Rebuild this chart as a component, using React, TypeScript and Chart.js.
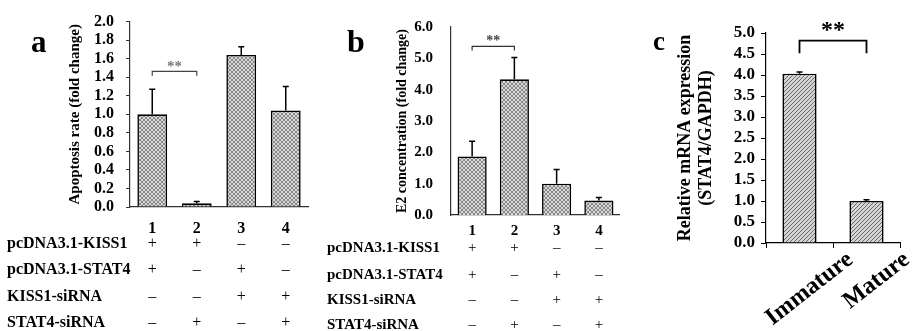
import React, { useEffect, useRef } from 'react';
import { Chart, registerables } from 'chart.js';

Chart.register(...registerables);

const FONT = "'Liberation Serif', 'Times New Roman', serif";

// ---- data ----
const groupLabels = ['1', '2', '3', '4'];
const apoptosisRate = [1.0, 0.04, 1.64, 1.04];
const apoptosisErr = [0.27, 0.02, 0.09, 0.26];
const e2Concentration = [1.87, 4.33, 1.0, 0.46];
const e2Err = [0.48, 0.7, 0.45, 0.1];
const maturityLabels = ['Immature', 'Mature'];
const stat4Expression = [4.03, 1.0];
const stat4Err = [0.04, 0.03];

const treatmentLabels = ['pcDNA3.1-KISS1', 'pcDNA3.1-STAT4', 'KISS1-siRNA', 'STAT4-siRNA'];
const kiss1Overexp = ['+', '+', '–', '–'];
const stat4Overexp = ['+', '–', '+', '–'];
const kiss1Sirna = ['–', '–', '+', '+'];
const stat4Sirna = ['–', '+', '–', '+'];
const treatmentSigns = [kiss1Overexp, stat4Overexp, kiss1Sirna, stat4Sirna];

type Spec = {
  key: string;
  left: number;
  width: number;
  labels: string[];
  values: number[];
  errors: number[];
  yMax: number;
  yStep: number;
  title: string | string[];
  titleSize: number;
  titleCenter: number;
  tickSize: number;
  tickPad: number;
  yTickLen: number;
  axisW: number;
  padTop: number;
  xAxisH: number;
  padRight: number;
  barPct: number;
  rotated: boolean;
  xTickPad: number;
  letter: string;
  letterX: number;
  letterY: number;
  letterSize: number;
  bracket: { top: number; bottom: number; starSize: number; starColor: string; lineColor: string; starRise: number };
  rows: number[] | null;
  rowSize: number;
  pattern: 'cross' | 'diag';
  axisColor: string;
};

const panels: Spec[] = [
  {
    key: 'a', left: 0, width: 320,
    labels: groupLabels, values: apoptosisRate, errors: apoptosisErr,
    yMax: 2, yStep: 0.2,
    title: 'Apoptosis rate (fold change)', titleSize: 15, titleCenter: 75,
    tickSize: 16, tickPad: 12, yTickLen: 4,
    axisW: 130, padTop: 17, xAxisH: 124, padRight: 12,
    barPct: 0.67, rotated: false, xTickPad: 12,
    letter: 'a', letterX: 31, letterY: 52, letterSize: 31,
    bracket: { top: 1.463, bottom: 1.416, starSize: 15, starColor: '#777', lineColor: '#444', starRise: 6 },
    rows: [244, 270, 297, 323], rowSize: 16,
    pattern: 'cross', axisColor: '#333',
  },
  {
    key: 'b', left: 320, width: 300,
    labels: groupLabels, values: e2Concentration, errors: e2Err,
    yMax: 6, yStep: 1,
    title: 'E2 concentration (fold change)', titleSize: 14, titleCenter: 82,
    tickSize: 15, tickPad: 18, yTickLen: 0,
    axisW: 131, padTop: 22, xAxisH: 116, padRight: 0,
    barPct: 0.69, rotated: false, xTickPad: 7,
    letter: 'b', letterX: 27, letterY: 52, letterSize: 32,
    bracket: { top: 5.38, bottom: 5.25, starSize: 14, starColor: '#444', lineColor: '#333', starRise: 7 },
    rows: [248, 275, 300, 325], rowSize: 15,
    pattern: 'cross', axisColor: '#333',
  },
  {
    key: 'c', left: 620, width: 296,
    labels: maturityLabels, values: stat4Expression, errors: stat4Err,
    yMax: 5, yStep: 0.5,
    title: ['Relative mRNA expression', '(STAT4/GAPDH)'], titleSize: 18, titleCenter: 65,
    tickSize: 17, tickPad: 6, yTickLen: 5,
    axisW: 146, padTop: 33, xAxisH: 88, padRight: 16,
    barPct: 0.51, rotated: true, xTickPad: 0,
    letter: 'c', letterX: 33, letterY: 50, letterSize: 27,
    bracket: { top: 4.82, bottom: 4.52, starSize: 24, starColor: '#000', lineColor: '#000', starRise: 13 },
    rows: null, rowSize: 15,
    pattern: 'diag', axisColor: '#000',
  },
];

function makePattern(ctx: CanvasRenderingContext2D, kind: 'cross' | 'diag') {
  const c = document.createElement('canvas');
  c.width = 4;
  c.height = 4;
  const g = c.getContext('2d')!;
  g.fillStyle = kind === 'cross' ? '#d8d8d8' : '#d4d4d4';
  g.fillRect(0, 0, 4, 4);
  g.fillStyle = kind === 'cross' ? '#888888' : '#6a6a6a';
  for (let i = 0; i < 4; i++) {
    g.fillRect(3 - i, i, 1, 1);
    if (kind === 'cross') g.fillRect(i, i, 1, 1);
  }
  return ctx.createPattern(c, 'repeat');
}

function overlay(spec: Spec) {
  return {
    id: 'overlay_' + spec.key,
    afterDatasetsDraw(chart: any) {
      const ctx: CanvasRenderingContext2D = chart.ctx;
      const xs = chart.scales.x;
      const ys = chart.scales.y;
      const meta = chart.getDatasetMeta(0);
      ctx.save();
      // error bars
      ctx.strokeStyle = '#000';
      ctx.lineWidth = 1.5;
      meta.data.forEach((el: any, i: number) => {
        const top = ys.getPixelForValue(spec.values[i] + spec.errors[i]);
        ctx.beginPath();
        ctx.moveTo(el.x, el.y);
        ctx.lineTo(el.x, top);
        ctx.moveTo(el.x - 3, top);
        ctx.lineTo(el.x + 3, top);
        ctx.stroke();
      });
      // significance bracket
      const b = spec.bracket;
      const x0 = xs.getPixelForValue(0);
      const x1 = xs.getPixelForValue(1);
      const yt = ys.getPixelForValue(b.top);
      const yb = ys.getPixelForValue(b.bottom);
      ctx.strokeStyle = b.lineColor;
      ctx.lineWidth = spec.rotated ? 1.8 : 1.2;
      ctx.beginPath();
      ctx.moveTo(x0, yb);
      ctx.lineTo(x0, yt);
      ctx.lineTo(x1, yt);
      ctx.lineTo(x1, yb);
      ctx.stroke();
      ctx.fillStyle = b.starColor;
      ctx.font = `bold ${b.starSize}px ${FONT}`;
      ctx.textAlign = 'center';
      ctx.textBaseline = 'alphabetic';
      ctx.fillText('**', (x0 + x1) / 2, yt - b.starRise + b.starSize * 0.4);
      ctx.restore();
    },
    afterDraw(chart: any) {
      const ctx: CanvasRenderingContext2D = chart.ctx;
      const xs = chart.scales.x;
      ctx.save();
      ctx.fillStyle = '#000';
      // panel letter
      ctx.font = `bold ${spec.letterSize}px ${FONT}`;
      ctx.textAlign = 'left';
      ctx.textBaseline = 'alphabetic';
      ctx.fillText(spec.letter, spec.letterX, spec.letterY);
      // treatment table
      if (spec.rows) {
        spec.rows.forEach((ry, r) => {
          ctx.font = `bold ${spec.rowSize}px ${FONT}`;
          ctx.textAlign = 'left';
          ctx.textBaseline = 'middle';
          ctx.fillText(treatmentLabels[r], 7, ry);
          ctx.font = `${spec.rowSize}px ${FONT}`;
          ctx.textAlign = 'center';
          treatmentSigns[r].forEach((s, i) => {
            ctx.fillText(s, xs.getPixelForValue(i), ry);
          });
        });
      }
      // rotated category labels
      if (spec.rotated) {
        const ang = (38 * Math.PI) / 180;
        ctx.font = `bold 24px ${FONT}`;
        ctx.textAlign = 'center';
        ctx.textBaseline = 'middle';
        spec.labels.forEach((lab, i) => {
          const w = ctx.measureText(lab).width;
          const cx = xs.getPixelForValue(i) + 10;
          const cy = chart.chartArea.bottom + 14 + (w * Math.sin(ang)) / 2;
          ctx.save();
          ctx.translate(cx, cy);
          ctx.rotate(-ang);
          ctx.fillText(lab, 0, 0);
          ctx.restore();
        });
      }
      ctx.restore();
    },
  };
}

function Panel({ spec }: { spec: Spec }) {
  const ref = useRef<HTMLCanvasElement | null>(null);
  useEffect(() => {
    const canvas = ref.current!;
    const ctx = canvas.getContext('2d')!;
    const pattern = makePattern(ctx, spec.pattern);
    const titleLH = spec.titleSize * 1.2;
    const chart = new Chart(canvas, {
      type: 'bar',
      data: {
        labels: spec.labels,
        datasets: [
          {
            data: spec.values,
            backgroundColor: pattern as any,
            borderColor: '#000',
            borderWidth: 1.6,
            barPercentage: spec.barPct,
            categoryPercentage: 1,
          },
        ],
      },
      options: {
        responsive: false,
        animation: false,
        devicePixelRatio: 1,
        layout: { padding: { left: 0, right: spec.padRight, top: spec.padTop, bottom: 0 } },
        plugins: { legend: { display: false }, tooltip: { enabled: false } },
        scales: {
          x: {
            type: 'category',
            offset: true,
            grid: spec.rotated
              ? { display: true, drawOnChartArea: false, drawTicks: true, tickLength: 5, color: '#000', lineWidth: 1, offset: true }
              : { display: false, drawTicks: false },
            border: { display: true, color: spec.axisColor, width: 1.2 },
            ticks: {
              display: !spec.rotated,
              autoSkip: false,
              maxRotation: 0,
              minRotation: 0,
              padding: spec.xTickPad,
              color: '#000',
              font: { family: FONT, size: spec.tickSize, weight: 'bold' },
            },
            afterFit: (s: any) => {
              s.height = spec.xAxisH;
            },
          },
          y: {
            min: 0,
            max: spec.yMax,
            grid: spec.yTickLen > 0
              ? { display: true, drawOnChartArea: false, drawTicks: true, tickLength: spec.yTickLen, color: spec.axisColor, lineWidth: 1 }
              : { display: false, drawTicks: false },
            border: { display: true, color: spec.axisColor, width: 1.2 },
            ticks: {
              stepSize: spec.yStep,
              autoSkip: false,
              padding: spec.tickPad,
              color: '#000',
              font: { family: FONT, size: spec.tickSize, weight: 'bold' },
              callback: (v: any) => Number(v).toFixed(1),
            },
            title: {
              display: true,
              text: spec.title,
              color: '#000',
              font: { family: FONT, size: spec.titleSize, weight: 'bold' },
              padding: { top: spec.titleCenter - titleLH / 2, bottom: 0 },
            },
            afterFit: (s: any) => {
              s.width = spec.axisW;
            },
          },
        },
      },
      plugins: [overlay(spec) as any],
    });
    return () => chart.destroy();
  }, [spec]);
  return (
    <canvas
      ref={ref}
      width={spec.width}
      height={331}
      style={{ position: 'absolute', left: spec.left, top: 0, width: spec.width, height: 331 }}
    />
  );
}

export default function App() {
  return (
    <div style={{ position: 'fixed', left: 0, top: 0, width: 916, height: 331, background: '#fff', overflow: 'hidden' }}>
      {panels.map((p) => (
        <Panel key={p.key} spec={p} />
      ))}
    </div>
  );
}
